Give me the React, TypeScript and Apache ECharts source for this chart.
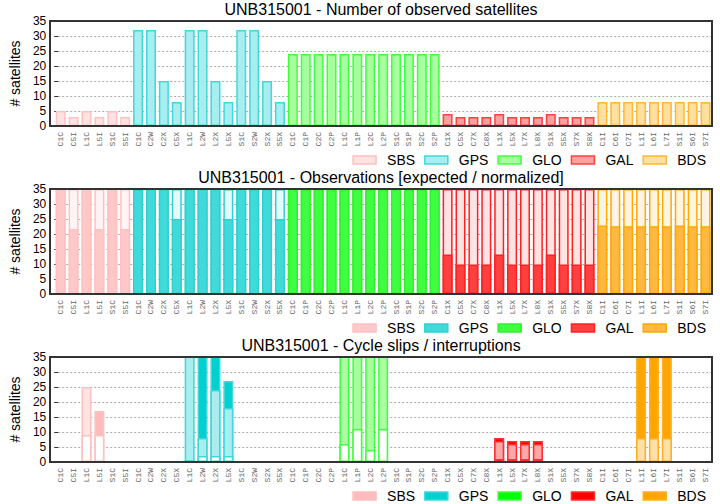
import React, { useEffect, useRef } from "react";
import * as echarts from "echarts";

// ---------- data ----------
const systemNames = ["SBS", "GPS", "GLO", "GAL", "BDS"];
const sbsSignals = ["C1C", "C5I", "L1C", "L5I", "S1C", "S5I"];
const gpsSignals = ["C1C", "C2W", "C2X", "C5X", "L1C", "L2W", "L2X", "L5X", "S1C", "S2W", "S2X", "S5X"];
const gloSignals = ["C1C", "C1P", "C2C", "C2P", "L1C", "L1P", "L2C", "L2P", "S1C", "S1P", "S2C", "S2P"];
const galSignals = ["C1X", "C5X", "C7X", "C8X", "L1X", "L5X", "L7X", "L8X", "S1X", "S5X", "S7X", "S8X"];
const bdsSignals = ["C1I", "C6I", "C7I", "L1I", "L6I", "L7I", "S1I", "S6I", "S7I"];
const signalsBySystem = [sbsSignals, gpsSignals, gloSignals, galSignals, bdsSignals];

const panelTitles = [
  "UNB315001 - Number of observed satellites",
  "UNB315001 - Observations [expected / normalized]",
  "UNB315001 - Cycle slips / interruptions",
];
const yTicks = [0, 5, 10, 15, 20, 25, 30, 35];

// Panel 1: number of observed satellites
const observedSats = [
  5, 3, 5, 3, 5, 3,
  32, 32, 15, 8, 32, 32, 15, 8, 32, 32, 15, 8,
  24, 24, 24, 24, 24, 24, 24, 24, 24, 24, 24, 24,
  4, 3, 3, 3, 4, 3, 3, 3, 4, 3, 3, 3,
  8, 8, 8, 8, 8, 8, 8, 8, 8,
];

// Panel 2: expected / normalized observations
const expectedObs = [
  35, 35, 35, 35, 35, 35,
  35, 35, 35, 35, 35, 35, 35, 35, 35, 35, 35, 35,
  35, 35, 35, 35, 35, 35, 35, 35, 35, 35, 35, 35,
  35, 35, 35, 35, 35, 35, 35, 35, 35, 35, 35, 35,
  35, 35, 35, 35, 35, 35, 35, 35, 35,
];
const normalizedObs = [
  35, 21.7, 35, 21.7, 35, 21.7,
  35, 35, 35, 25, 35, 35, 35, 25, 35, 35, 35, 25,
  35, 35, 35, 35, 35, 35, 35, 35, 35, 35, 35, 35,
  13.2, 9.8, 9.8, 9.8, 13.2, 9.8, 9.8, 9.8, 13.2, 9.8, 9.8, 9.8,
  22.8, 22.6, 22.6, 22.6, 22.6, 22.6, 22.8, 22.6, 22.6,
];

// Panel 3: cycle slips / interruptions (overlapping bars)
const interruptions = [
  0, 0, 0, 17, 0, 0,
  0, 0, 0, 0, 0, 40, 40, 27, 0, 0, 0, 0,
  0, 0, 0, 0, 0, 0, 0, 0, 0, 0, 0, 0,
  0, 0, 0, 0, 8, 7, 7, 7, 0, 0, 0, 0,
  0, 0, 0, 40, 40, 40, 0, 0, 0,
];
const cycleSlips = [
  0, 0, 25, 0, 0, 0,
  0, 0, 0, 0, 40, 8, 24, 18, 0, 0, 0, 0,
  0, 0, 0, 0, 40, 40, 40, 40, 0, 0, 0, 0,
  0, 0, 0, 0, 7, 6, 6, 6, 0, 0, 0, 0,
  0, 0, 0, 8, 8, 8, 0, 0, 0,
];
const slipBase = [
  0, 0, 9, 9, 0, 0,
  0, 0, 0, 0, 0.6, 2, 2, 2, 0, 0, 0, 0,
  0, 0, 0, 0, 6, 11, 4, 11, 0, 0, 0, 0,
  0, 0, 0, 0, 1, 1, 1, 1, 0, 0, 0, 0,
  0, 0, 0, 0, 0, 0, 0, 0, 0,
];

// ---------- styling ----------
const PANEL_H = 168;
const GRID_LEFT = 50;
const GRID_W = 662;
const GRID_TOP = 21;
const GRID_H = 105;
const FONT = "Liberation Sans, Arial, sans-serif";

const borders = ["#ffc0c0", "#40d8d8", "#40ff40", "#ff4040", "#ffb830"];
const p1Fill = ["#ffe2e2", "#a8eef0", "#a8ffa0", "#ffa0a0", "#ffe0a0"];
const p2Light = ["#fff4f4", "#e2fafa", "#e2ffe2", "#ffe2e2", "#fff4e2"];
const p2Dark = ["#ffc8c8", "#40dada", "#40ff40", "#ff4040", "#ffb840"];
const p2Border = ["#ffc0c0", "#30d0d0", "#30f030", "#ff2020", "#ffa800"];
const p3Dark = ["#ffbcbc", "#00d0d0", "#00ff00", "#ff0000", "#ffa500"];
const p3Light = ["#ffe2e2", "#a8eef0", "#a8ffa0", "#ffa8a8", "#ffe0a8"];
const p3Border = ["#ffc0c0", "#40d8d8", "#40ff40", "#ff3030", "#ffb020"];

export default function App() {
  const ref = useRef<HTMLDivElement>(null);

  useEffect(() => {
    if (!ref.current) return;
    const chart = echarts.init(ref.current, undefined, { renderer: "svg" });

    const categories: string[] = [];
    const sysIndex: number[] = [];
    signalsBySystem.forEach((sigs, s) => sigs.forEach((c) => { categories.push(c); sysIndex.push(s); }));

    const series: any[] = [];
    const addLayer = (panel: number, values: number[], fills: string[], bords: string[], z: number) => {
      systemNames.forEach((name, s) => {
        series.push({
          type: "bar",
          name,
          xAxisIndex: panel,
          yAxisIndex: panel,
          barWidth: 10,
          barGap: "-100%",
          z,
          silent: true,
          itemStyle: { color: fills[s], borderColor: bords[s], borderWidth: 1.5 },
          data: values.map((v, i) => (sysIndex[i] === s && v > 0 ? v : "-")),
        });
      });
    };
    addLayer(0, observedSats, p1Fill, borders, 2);
    addLayer(1, expectedObs, p2Light, p2Border, 2);
    addLayer(1, normalizedObs, p2Dark, p2Border, 3);
    addLayer(2, interruptions, p3Dark, p3Border, 2);
    addLayer(2, cycleSlips, p3Light, p3Border, 3);
    addLayer(2, slipBase, ["#ffffff", "#ffffff", "#ffffff", "#ffffff", "#ffffff"], p3Border, 4);

    const legendFills = [p1Fill, p2Dark, p3Dark];
    const legendBorders = [borders, p2Border, p3Border];
    const panels = [0, 1, 2];

    chart.setOption({
      animation: false,
      backgroundColor: "#ffffff",
      title: panels.map((p) => ({
        text: panelTitles[p],
        left: GRID_LEFT + GRID_W / 2,
        textAlign: "center",
        top: PANEL_H * p + 1,
        padding: 0,
        textStyle: { fontSize: 16, fontWeight: "normal", color: "#000", fontFamily: FONT },
      })),
      legend: panels.map((p) => ({
        right: 9,
        top: PANEL_H * p + 148,
        orient: "horizontal",
        selectedMode: false,
        icon: "rect",
        itemWidth: 23,
        itemHeight: 8,
        itemGap: 9,
        textStyle: { fontSize: 14, color: "#000", fontFamily: FONT, padding: [0, 0, 0, 6] },
        data: systemNames.map((n, s) => ({
          name: n,
          itemStyle: { color: legendFills[p][s], borderColor: legendBorders[p][s], borderWidth: 1.5 },
        })),
      })),
      grid: panels.map((p) => ({
        left: GRID_LEFT,
        top: PANEL_H * p + GRID_TOP,
        width: GRID_W,
        height: GRID_H,
      })),
      xAxis: panels.map((p) => ({
        type: "category",
        gridIndex: p,
        data: categories,
        axisLine: { show: false },
        axisTick: { show: false },
        axisLabel: {
          interval: 0,
          rotate: 90,
          margin: 6,
          fontSize: 8,
          color: "#666",
          fontFamily: "Liberation Mono, monospace",
        },
      })),
      yAxis: panels.map((p) => ({
        type: "value",
        gridIndex: p,
        min: 0,
        max: yTicks[yTicks.length - 1],
        interval: yTicks[1] - yTicks[0],
        name: "# satellites",
        nameLocation: "middle",
        nameGap: 27,
        nameTextStyle: { fontSize: 14, color: "#000", fontFamily: FONT },
        axisLine: { show: false },
        axisTick: { show: true, inside: true, length: 4, lineStyle: { color: "#333" } },
        axisLabel: { fontSize: 12, color: "#000", margin: 8, fontFamily: FONT },
        splitLine: { show: true, lineStyle: { color: "#aaa", type: [2, 2], width: 1 } },
      })),
      series,
      graphic: panels.map((p) => ({
        type: "rect",
        z: 100,
        silent: true,
        shape: { x: GRID_LEFT, y: PANEL_H * p + GRID_TOP, width: GRID_W, height: GRID_H },
        style: { fill: null, stroke: "#333", lineWidth: 2 },
      })),
    });

    return () => chart.dispose();
  }, []);

  return (
    <div
      ref={ref}
      style={{ position: "fixed", left: 0, top: 0, width: 720, height: 504, background: "#fff" }}
    />
  );
}
